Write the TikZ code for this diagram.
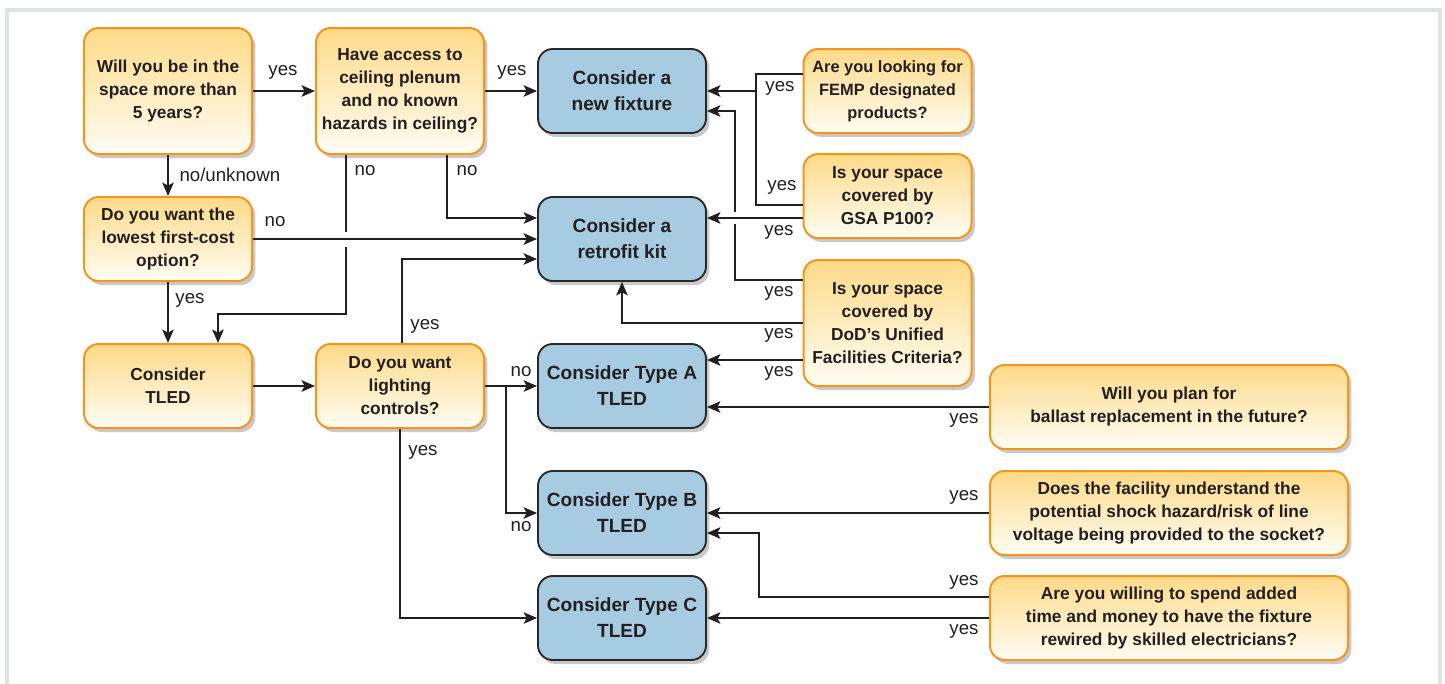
\documentclass[tikz,border=0pt]{standalone}
\usepackage{fontspec}
\setmainfont{Liberation Sans}
\usepackage{tikz}
\usetikzlibrary{calc}
\usetikzlibrary{arrows.meta}
\usetikzlibrary{shadows}
\definecolor{askedge}{RGB}{247,148,29}
\definecolor{asktop}{RGB}{254,218,136}
\definecolor{askbot}{RGB}{255,253,244}
\definecolor{pickfill}{RGB}{167,203,225}
\definecolor{pickedge}{RGB}{40,40,40}
\definecolor{inkline}{RGB}{35,31,32}
\definecolor{framegray}{RGB}{222,227,231}
\tikzset{every picture/.style={line width=0.75pt}}
\tikzset{
  boxbase/.style={rounded corners=11pt, align=center, inner sep=0pt,
    minimum width=126pt, minimum height=63pt, text=inkline,
    drop shadow={shadow xshift=2.5pt, shadow yshift=-3pt, opacity=0.3, fill=black!70}},
  ask/.style={boxbase, draw=askedge, line width=1.5pt, top color=asktop, bottom color=askbot,
    font=\fontsize{13}{17.25}\selectfont\bfseries},
  pick/.style={boxbase, draw=pickedge, line width=1.4pt, fill=pickfill,
    font=\fontsize{14.3}{19.5}\selectfont\bfseries},
  tallbox/.style={minimum height=94.5pt},
  widebox/.style={minimum width=268.5pt},
  wire/.style={draw=inkline, line width=1.8pt},
  flow/.style={wire, -{Stealth[length=10pt,width=8.5pt,inset=2.2pt]}},
  tag/.style={inner sep=0pt, text=inkline, font=\fontsize{14}{16}\selectfont},
}

\begin{document}
\begin{tikzpicture}[x=0.75pt,y=0.75pt,yscale=-1,xscale=1]
\useasboundingbox (0,0) rectangle (1445,683);

%Shape: Frame
\draw [framegray, line width=2.8pt] (7,700) -- (7,10) -- (1440,10) -- (1440,700);

%Shape: Rounded Rect (questions)
\node [ask, tallbox] (will) at (168,91) {Will you be in the\\space more than\\5 years?};
\node [ask, tallbox] (access) at (400,91) {Have access to\\ceiling plenum\\and no known\\hazards in ceiling?};
\node [ask] (lowcost) at (168,239) {Do you want the\\lowest first-cost\\option?};
\node [ask] (tled) at (168,386) {Consider\\TLED};
\node [ask] (lights) at (400,386) {Do you want\\lighting\\controls?};
\node [ask, font=\fontsize{12.3}{17.25}\selectfont\bfseries] (femp) at (887.5,91) {Are you looking for\\FEMP designated\\products?};
\node [ask] (gsa) at (887.5,196) {Is your space\\covered by\\GSA P100?};
\node [ask, tallbox] (dod) at (887.5,323) {Is your space\\covered by\\DoD’s Unified\\Facilities Criteria?};
\node [ask, widebox] (ballast) at (1169,407) {Will you plan for\\ballast replacement in the future?};
\node [ask, widebox] (shock) at (1169,513) {Does the facility understand the\\potential shock hazard/risk of line\\voltage being provided to the socket?};
\node [ask, widebox] (rewire) at (1169,618) {Are you willing to spend added\\time and money to have the fixture\\rewired by skilled electricians?};

%Shape: Rounded Rect (outcomes)
\node [pick] (newfix) at (622,91) {Consider a\\new fixture};
\node [pick] (retro) at (622,239) {Consider a\\retrofit kit};
\node [pick] (typea) at (622,386) {Consider Type A\\TLED};
\node [pick] (typeb) at (622,513) {Consider Type B\\TLED};
\node [pick] (typec) at (622,618) {Consider Type C\\TLED};

%Connectors, left part
\draw [flow] (will.east) -- (access.west);
\draw [flow] (access.east) -- (newfix.west);
\draw [flow] (will.south) -- (lowcost.north);
\draw [flow] (lowcost.south) -- (tled.north);
\draw [flow] (lowcost.east) -- (retro.west);
\draw [flow] (tled.east) -- (lights.west);
\draw [flow] (lights.east) -- (typea.west);
\coordinate (gapT) at (346,232);
\coordinate (gapB) at (346,247);
\coordinate (nobend) at (346,314);
\draw [wire] (access.south -| gapT) -- (gapT);
\draw [flow] (gapB) -- (nobend) -| ($(tled.north)+(50,0)$);
\draw [flow] ($(access.south)+(47,0)$) |- ($(retro.west)+(0,-21)$);
\draw [flow] ($(lights.north)+(2,0)$) |- ($(retro.west)+(0,20)$);
\draw [flow] (lights.south) |- (typec.west);
\coordinate (split) at (506,386);
\draw [flow] (split) |- (typeb.west);

%Connectors, right part
\coordinate (femjoin) at (756,91);
\draw [wire] ($(femp.west)+(0,-17)$) -| (femjoin);
\draw [wire] ($(gsa.west)+(0,9)$) -| (femjoin);
\draw [flow] (femjoin) -- (newfix.east);
\draw [flow] ($(gsa.west)+(0,22)$) -- ($(retro.east)+(0,-21)$);
\coordinate (dodgapB) at (735,224);
\coordinate (dodgapT) at (735,212);
\draw [wire] ($(dod.west)+(0,-43)$) -| (dodgapB);
\draw [flow] (dodgapT) |- ($(newfix.east)+(0,20)$);
\draw [flow] (dod.west) -| (retro.south);
\draw [flow] ($(dod.west)+(0,37)$) -- ($(typea.east)+(0,-26)$);
\draw [flow] (ballast.west) -- (ballast.west -| typea.east);
\draw [flow] (shock.west) -- (shock.west -| typeb.east);
\draw [flow] ($(rewire.west)+(0,-21)$) -| ($(typeb.east)+(52,20)$) -- ($(typeb.east)+(0,20)$);
\draw [flow] (rewire.west) -- (rewire.west -| typec.east);

% Text Node
\node [tag] (yesmore) at (283,72) {yes};
\node [tag] (yesaccess) at (512,72) {yes};
\node [tag, anchor=west] (nounknown) at (179,175) {no/unknown};
\node [tag] (noleft) at (365,171) {no};
\node [tag] (noright) at (467,171) {no};
\node [tag] (nocost) at (275,222) {no};
\node [tag] (yescost) at (190,300) {yes};
\node [tag] (yesup) at (425,326) {yes};
\node [tag] (yesdown) at (423,452) {yes};
\node [tag] (notypea) at (521,372) {no};
\node [tag] (notypeb) at (521,527) {no};
\node [tag] (yesfemp) at (780,88) {yes};
\node [tag] (yesgsa) at (782,187) {yes};
\node [tag] (yesgsakit) at (779,232) {yes};
\node [tag] (yesdodfix) at (779,293) {yes};
\node [tag] (yesdodkit) at (779,335) {yes};
\node [tag] (yesdoda) at (779,373) {yes};
\node [tag] (yesballast) at (964,420) {yes};
\node [tag] (yesshock) at (964,497) {yes};
\node [tag] (yesrewireb) at (964,582) {yes};
\node [tag] (yesrewirec) at (964,631) {yes};

\end{tikzpicture}
\end{document}
